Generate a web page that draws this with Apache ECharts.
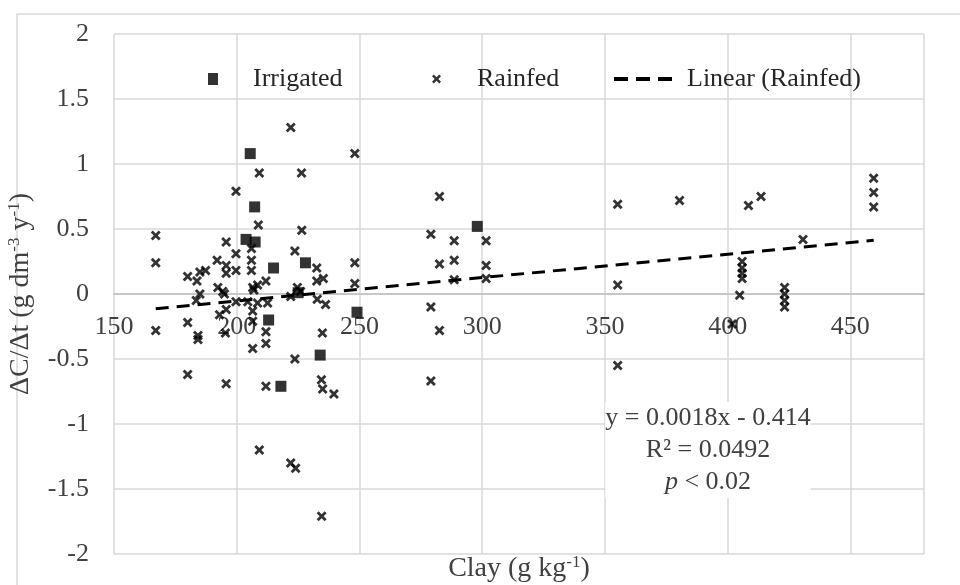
<!DOCTYPE html>
<html>
<head>
<meta charset="utf-8">
<script src="https://cdn.jsdelivr.net/npm/echarts@6/dist/echarts.min.js"></script>
<style>
  html, body { margin: 0; padding: 0; background: #fff; }
  #chart { width: 960px; height: 585px; }
</style>
</head>
<body>
<div id="chart"></div>
<script>
// irrigated plots (clay g/kg, delta C / delta t)
const irrigatedClay = [205.5, 207.3, 203.8, 207.5, 215, 228, 225, 213, 234, 218, 249, 298];
const irrigatedRate = [1.08, 0.67, 0.42, 0.40, 0.20, 0.24, 0.01, -0.20, -0.47, -0.71, -0.14, 0.52];

// rainfed plots
const rainfedClay = [
  167, 167, 167, 195.7, 199.7, 192, 195.7, 199.7, 180, 185,
  187.3, 183.8, 195.7, 192.3, 194.3, 185, 199.7, 183.5, 193, 195.7,
  180, 184.2, 184.2, 195.4, 180, 195.7, 199.7, 208.8, 226.5, 206,
  206, 206, 223.7, 232.6, 232.6, 235.3, 211.9, 208.5, 206.5, 224.7,
  226, 222, 232.8, 236.2, 204.5, 208.5, 212.6, 207, 206.5, 206.5,
  211.9, 211.9, 206.5, 234.9, 223.7, 211.9, 234.5, 235, 239.6, 209.2,
  222, 224, 234.6, 222, 248.1, 209.2, 226.4, 248.1, 248.1, 282.6,
  279.1, 288.6, 301.6, 282.6, 288.6, 301.6, 288.6, 301.6, 279.1, 282.6,
  279.1, 355.2, 380.4, 408.5, 413.6, 459.5, 459.5, 459.5, 430.7, 355.2,
  355.2, 405.9, 405.9, 405.9, 405.9, 404.9, 423.2, 423.2, 423.2, 423.2,
  401.8, 195
];
const rainfedRate = [
  0.45, 0.24, -0.28, 0.40, 0.31, 0.26, 0.22, 0.18, 0.135, 0.17,
  0.18, 0.10, 0.16, 0.05, 0.02, 0.0, -0.06, -0.05, -0.16, -0.12,
  -0.22, -0.32, -0.35, -0.30, -0.62, -0.69, 0.79, 0.53, 0.49, 0.35,
  0.26, 0.18, 0.33, 0.20, 0.10, 0.12, 0.10, 0.07, 0.05, 0.05,
  0.02, -0.02, -0.04, -0.08, -0.06, -0.07, -0.07, 0.03, -0.13, -0.21,
  -0.29, -0.38, -0.42, -0.30, -0.50, -0.71, -0.66, -0.73, -0.77, -1.20,
  -1.30, -1.34, -1.71, 1.28, 1.08, 0.93, 0.93, 0.24, 0.08, 0.75,
  0.46, 0.41, 0.41, 0.23, 0.26, 0.22, 0.11, 0.12, -0.10, -0.28,
  -0.67, 0.69, 0.72, 0.68, 0.75, 0.89, 0.78, 0.67, 0.42, 0.07,
  -0.55, 0.25, 0.20, 0.16, 0.12, -0.01, 0.05, 0.0, -0.05, -0.10,
  -0.23, 0.0
];

// linear fit for rainfed, as printed on the chart
const slope = 0.0018;
const intercept = -0.414;
const fitText = ['y = 0.0018x - 0.414', 'R² = 0.0492'];

const font = 'Liberation Serif, serif';
const textColor = '#404040';
const crossPath = 'path://M0,2 L2,0 L5,3 L8,0 L10,2 L7,5 L10,8 L8,10 L5,7 L2,10 L0,8 L3,5 Z';

const irrigatedData = irrigatedClay.map((x, i) => [x, irrigatedRate[i]]);
const rainfedData = rainfedClay.map((x, i) => [x, rainfedRate[i]]);
const xMin = Math.min(...rainfedClay);
const xMax = Math.max(...rainfedClay);
const fitData = [[xMin, slope * xMin + intercept], [xMax, slope * xMax + intercept]];

const chart = echarts.init(document.getElementById('chart'));

const superRich = {
  n: { fontFamily: font, fontSize: 28, fill: textColor, color: textColor, lineHeight: 30 },
  s: { fontFamily: font, fontSize: 17, fill: textColor, color: textColor, lineHeight: 30, verticalAlign: 'top', padding: [0, 0, 11, 0] }
};

const legendBase = {
  top: 61,
  itemGap: 10,
  textStyle: { fontFamily: font, fontSize: 26, color: '#262626' }
};

// plot area: 0 sits at the middle of -2..2, so the x axis is moved up by half the plot height
const gridTop = 34;
const gridBottom = 31;
const plotHeight = 585 - gridTop - gridBottom;

chart.setOption({
  animation: false,
  grid: { left: 114, right: 36, top: gridTop, bottom: gridBottom, outerBoundsMode: 'none' },
  legend: [
    Object.assign({}, legendBase, {
      left: 203, data: ['Irrigated'], itemWidth: 10, itemHeight: 12,
      textStyle: Object.assign({}, legendBase.textStyle, { padding: [0, 0, 0, 30] })
    }),
    Object.assign({}, legendBase, {
      left: 427, data: ['Rainfed'], itemWidth: 9, itemHeight: 9,
      textStyle: Object.assign({}, legendBase.textStyle, { padding: [0, 0, 0, 31] })
    }),
    Object.assign({}, legendBase, {
      left: 607, data: ['Linear (Rainfed)'], itemWidth: 66, itemHeight: 4,
      lineStyle: { width: 4, type: [14, 8] },
      textStyle: Object.assign({}, legendBase.textStyle, { padding: [0, 0, 0, 2] })
    })
  ],
  xAxis: {
    type: 'value',
    min: 150,
    max: 480,
    interval: 50,
    position: 'bottom',
    offset: -plotHeight / 2,
    axisLine: { show: true, onZero: false, lineStyle: { color: '#bfbfbf', width: 1.5 } },
    axisTick: { show: false },
    axisLabel: { fontFamily: font, fontSize: 26, color: textColor, margin: 20, showMaxLabel: false },
    splitLine: { show: true, lineStyle: { color: '#d9d9d9', width: 1.5 } }
  },
  yAxis: {
    type: 'value',
    min: -2,
    max: 2,
    interval: 0.5,
    axisLine: { show: false },
    axisTick: { show: false },
    axisLabel: { fontFamily: font, fontSize: 26, color: textColor, margin: 25 },
    splitLine: { show: true, lineStyle: { color: '#d9d9d9', width: 1.5 } },
    name: '{n|ΔC/Δt (g dm}{s|-3}{n| y}{s|-1}{n|)}',
    nameLocation: 'middle',
    nameGap: 78,
    nameTextStyle: { rich: superRich }
  },
  series: [
    {
      name: 'Irrigated',
      type: 'scatter',
      data: irrigatedData,
      symbol: 'rect',
      symbolSize: 11,
      itemStyle: { color: '#000' },
      z: 3
    },
    {
      name: 'Rainfed',
      type: 'scatter',
      data: rainfedData,
      symbol: crossPath,
      symbolSize: 10,
      itemStyle: { color: '#000' },
      z: 4
    },
    {
      name: 'Linear (Rainfed)',
      type: 'line',
      data: fitData,
      symbol: 'none',
      showSymbol: false,
      lineStyle: { color: '#000', width: 3, type: [13, 8] },
      itemStyle: { color: '#000' },
      z: 5
    }
  ],
  graphic: [
    {
      type: 'rect',
      shape: { x: 17, y: 14, width: 960, height: 600 },
      style: { fill: 'none', stroke: '#d9d9d9', lineWidth: 1.5 },
      silent: true
    },
    {
      type: 'text',
      x: 519, y: 569,
      style: { text: '{n|Clay (g kg}{s|-1}{n|)}', rich: superRich, align: 'center', verticalAlign: 'middle' }
    },
    {
      type: 'text',
      x: 708, y: 450,
      z: 10,
      style: {
        text: '{n|' + fitText[0] + '}\n{n|' + fitText[1] + '}\n{i|p}{n| < 0.02}',
        align: 'center', verticalAlign: 'middle',
        backgroundColor: '#fff',
        rich: {
          i: { fontFamily: font, fontSize: 26, fontStyle: 'italic', fill: textColor, lineHeight: 32 },
          n: { fontFamily: font, fontSize: 26, fill: textColor, lineHeight: 32 }
        }
      }
    }
  ]
});
</script>
</body>
</html>
